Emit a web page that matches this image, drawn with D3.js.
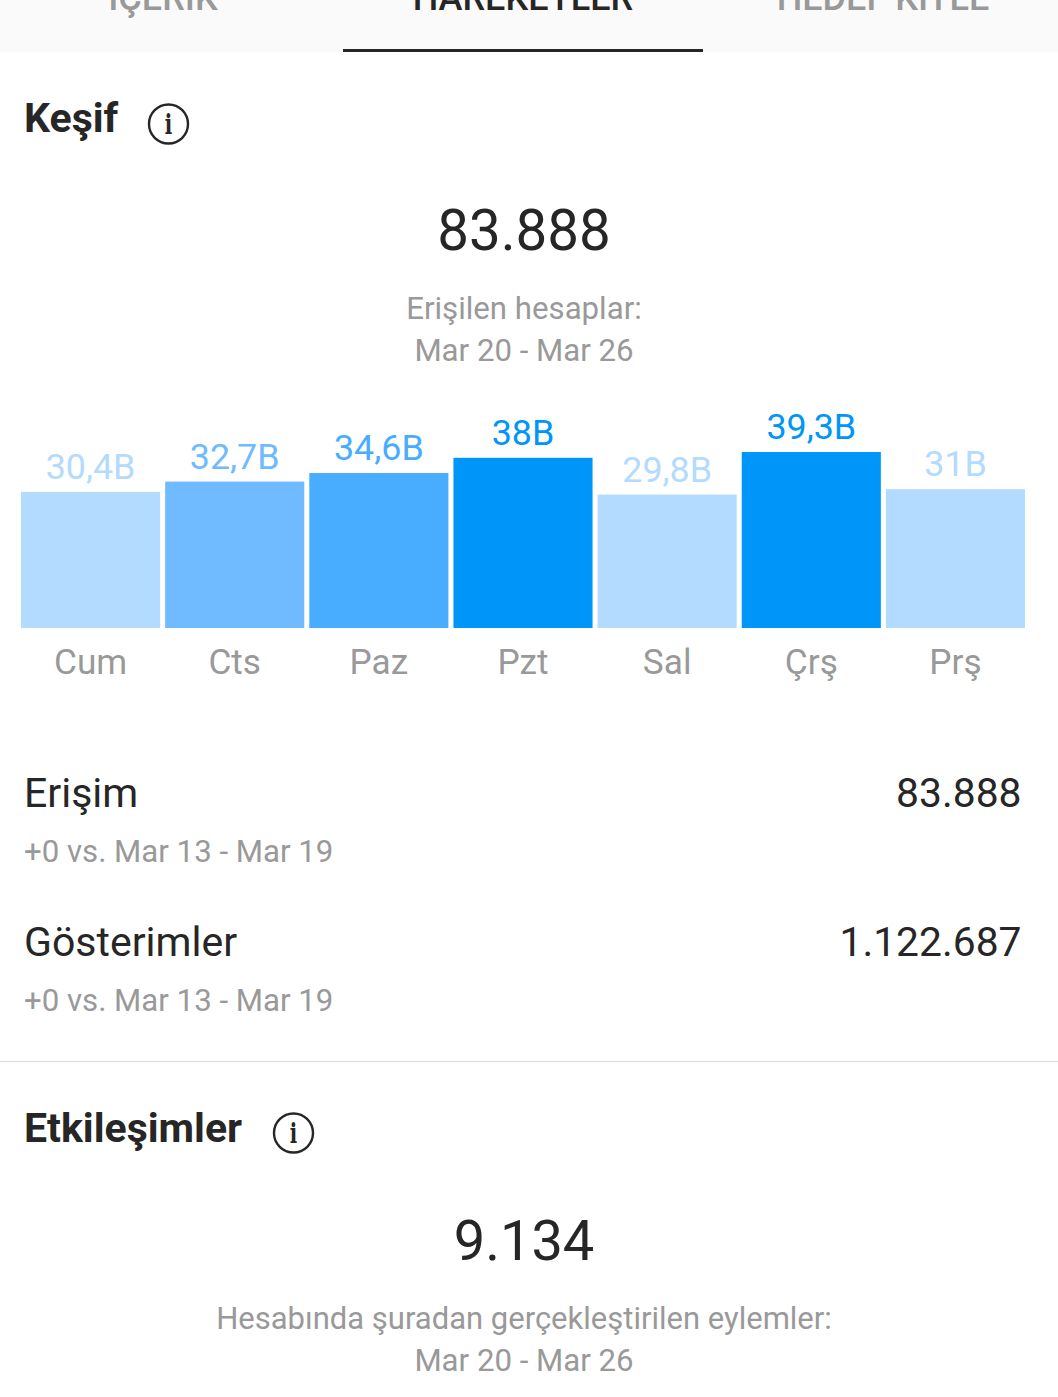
<!DOCTYPE html>
<html>
<head>
<meta charset="utf-8">
<script src="https://cdn.jsdelivr.net/npm/d3@7"></script>
<style>
html, body { margin: 0; padding: 0; background: #fff; overflow: hidden; }
svg { display: block; }
text { font-family: Roboto, sans-serif; }
.axis path, .axis line { display: none; }
</style>
</head>
<body>
<div id="fig"></div>
<script>
const days = ["Cum", "Cts", "Paz", "Pzt", "Sal", "Çrş", "Prş"];
const reach = [30.4, 32.7, 34.6, 38, 29.8, 39.3, 31];
const valueLabels = ["30,4B", "32,7B", "34,6B", "38B", "29,8B", "39,3B", "31B"];
const barColors = ["#b3daff", "#70baff", "#48acff", "#0095f8", "#b3daff", "#0095f8", "#b3daff"];
const tabs = ["İÇERİK", "HAREKETLER", "HEDEF KİTLE"];
const tabColors = ["#999", "#262626", "#999"];

const width = 1058, height = 1397;
const dark = "#262626", grey = "#999999";

const svg = d3.select("#fig").append("svg")
    .attr("width", width)
    .attr("height", height);

// tab bar at the top, cut off by the edge of the screenshot
svg.append("rect").attr("width", width).attr("height", 52).attr("fill", "#fafafa");
const tabScale = d3.scaleBand().domain(tabs).range([-17, 1063]);
svg.selectAll(".tab")
    .data(tabs)
    .enter()
    .append("text")
    .attr("class", "tab")
    .attr("x", d => tabScale(d) + tabScale.bandwidth() / 2)
    .attr("y", 10)
    .attr("text-anchor", "middle")
    .attr("font-size", 36)
    .attr("font-weight", 500)
    .attr("fill", (d, i) => tabColors[i])
    .text(d => d);
svg.append("rect").attr("x", 343).attr("y", 49).attr("width", 360).attr("height", 3).attr("fill", dark);

// little helper for all the plain text rows
function label(str, x, y, size, color, anchor = "start", weight = 400) {
    return svg.append("text")
        .attr("x", x)
        .attr("y", y)
        .attr("font-size", size)
        .attr("fill", color)
        .attr("text-anchor", anchor)
        .attr("font-weight", weight)
        .text(str);
}

function infoIcon(cx, cy) {
    svg.append("circle")
        .attr("cx", cx).attr("cy", cy).attr("r", 19.5)
        .attr("fill", "none").attr("stroke", dark).attr("stroke-width", 2.4);
    svg.append("text")
        .attr("x", cx).attr("y", cy + 10)
        .attr("text-anchor", "middle")
        .attr("font-size", 28)
        .attr("fill", dark)
        .style("font-family", "'DejaVu Serif', serif")
        .style("font-weight", 700)
        .attr("transform", `translate(${cx},0) scale(0.7,1) translate(${-cx},0)`)
        .text("i");
}

label("Keşif", 24, 132, 41, dark, "start", 700);
infoIcon(168.5, 124);
label("83.888", 524, 250, 56.5, dark, "middle");
label("Erişilen hesaplar:", 524, 319, 31.2, grey, "middle");
label("Mar 20 - Mar 26", 524, 361, 31.2, grey, "middle");

// bar chart
const baseline = 628, top39 = 452;
const xScale = d3.scaleBand()
    .domain(days)
    .range([21, 1025])
    .paddingInner(0.035);
const yScale = d3.scaleLinear()
    .domain([0, 39.3])
    .range([baseline, top39]);

svg.selectAll(".bar")
    .data(days)
    .enter()
    .append("rect")
    .attr("class", "bar")
    .attr("x", d => xScale(d))
    .attr("y", (d, i) => yScale(reach[i]))
    .attr("width", xScale.bandwidth())
    .attr("height", (d, i) => baseline - yScale(reach[i]))
    .attr("fill", (d, i) => barColors[i]);

svg.selectAll(".val")
    .data(days)
    .enter()
    .append("text")
    .attr("class", "val")
    .attr("x", d => xScale(d) + xScale.bandwidth() / 2)
    .attr("y", (d, i) => yScale(reach[i]) - 13)
    .attr("text-anchor", "middle")
    .attr("font-size", 35.8)
    .attr("fill", (d, i) => barColors[i])
    .text((d, i) => valueLabels[i]);

svg.append("g")
    .attr("class", "axis")
    .attr("transform", `translate(0,${baseline})`)
    .call(d3.axisBottom(xScale).tickSize(0).tickPadding(0))
    .call(g => g.selectAll("text")
        .attr("y", 46)
        .attr("dy", 0)
        .attr("font-size", 35.2)
        .attr("font-family", "Roboto, sans-serif")
        .attr("fill", grey));

// metric rows
label("Erişim", 24, 807, 41, dark);
label("83.888", 1021.5, 807, 40.8, dark, "end");
label("+0 vs. Mar 13 - Mar 19", 24, 862, 31.2, grey);
label("Gösterimler", 24, 956, 41, dark);
label("1.122.687", 1021.5, 956, 40.8, dark, "end");
label("+0 vs. Mar 13 - Mar 19", 24, 1011, 31.2, grey);

svg.append("rect").attr("y", 1061).attr("width", width).attr("height", 1).attr("fill", "#dbdbdb");

label("Etkileşimler", 24, 1142, 41, dark, "start", 700);
infoIcon(293.5, 1133);
label("9.134", 524, 1260, 56, dark, "middle");
label("Hesabında şuradan gerçekleştirilen eylemler:", 524, 1329, 31, grey, "middle");
label("Mar 20 - Mar 26", 524, 1371, 31.2, grey, "middle");
</script>
</body>
</html>
